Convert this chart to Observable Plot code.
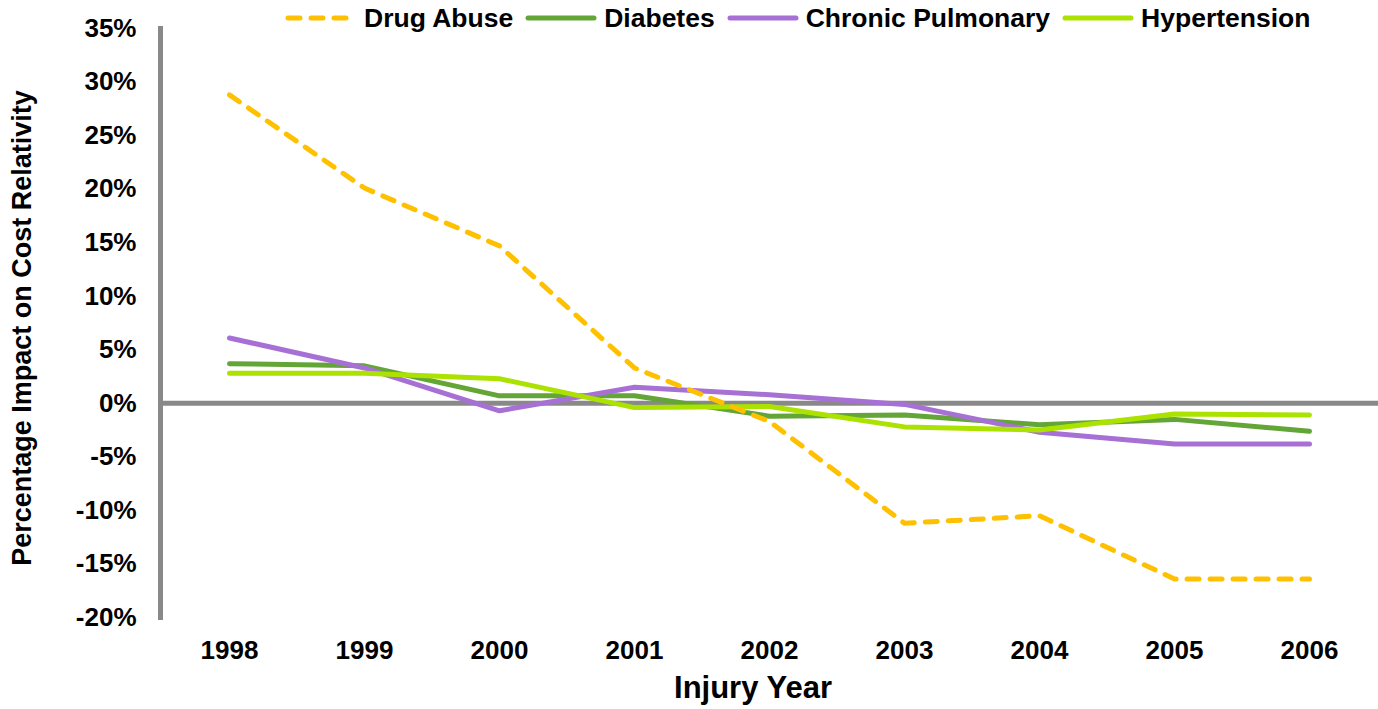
<!DOCTYPE html>
<html>
<head>
<meta charset="utf-8">
<script src="https://cdn.jsdelivr.net/npm/d3@7"></script>
<script src="https://cdn.jsdelivr.net/npm/@observablehq/plot@0.6"></script>
<style>
  html, body { margin: 0; padding: 0; background: #fff; }
  #wrap { position: relative; width: 1378px; height: 709px; font-family: "Liberation Sans", Arial, sans-serif; font-weight: bold; color: #000; }
  #legend { position: absolute; left: 285px; top: 5px; display: flex; align-items: center; font-size: 26.5px; line-height: 26px; }
  .item { display: flex; align-items: center; margin-right: 12px; }
  .item svg { margin-right: 7px; }
  #xtitle { position: absolute; left: 753px; top: 672px; transform: translateX(-50%); font-size: 31px; line-height: 31px; white-space: nowrap; }
  #ytitle { position: absolute; left: 22px; top: 328px; transform: translate(-50%, -50%) rotate(-90deg); font-size: 27px; line-height: 27px; white-space: nowrap; }
</style>
</head>
<body>
<div id="wrap">
  <div id="chart"></div>
  <div id="legend"></div>
  <div id="xtitle">Injury Year</div>
  <div id="ytitle">Percentage Impact on Cost Relativity</div>
</div>
<script>
const years = [1998, 1999, 2000, 2001, 2002, 2003, 2004, 2005, 2006];
const seriesNames = ["Drug Abuse", "Diabetes", "Chronic Pulmonary", "Hypertension"];
const drugAbuse = [28.8, 20.1, 14.7, 3.3, -1.7, -11.2, -10.5, -16.4, -16.4];
const diabetes = [3.7, 3.5, 0.7, 0.7, -1.2, -1.1, -2.0, -1.5, -2.6];
const chronicPulmonary = [6.1, 3.3, -0.7, 1.5, 0.8, -0.1, -2.7, -3.8, -3.8];
const hypertension = [2.8, 2.8, 2.3, -0.4, -0.3, -2.2, -2.5, -1.0, -1.1];
const yTicks = [-20, -15, -10, -5, 0, 5, 10, 15, 20, 25, 30, 35];

const colors = {"Drug Abuse": "#FFC000", "Diabetes": "#63A537", "Chronic Pulmonary": "#A770D4", "Hypertension": "#ACE200"};
const dashes = {"Drug Abuse": "12,11", "Diabetes": null, "Chronic Pulmonary": null, "Hypertension": null};

const valuesBySeries = {
  "Drug Abuse": drugAbuse,
  "Diabetes": diabetes,
  "Chronic Pulmonary": chronicPulmonary,
  "Hypertension": hypertension
};
const rows = seriesNames.flatMap(s => years.map((yr, i) => ({series: s, year: yr, value: valuesBySeries[s][i]})));

const drawOrder = ["Diabetes", "Chronic Pulmonary", "Hypertension", "Drug Abuse"];

const chart = Plot.plot({
  width: 1378,
  height: 709,
  marginLeft: 160,
  marginRight: 0,
  marginTop: 28,
  marginBottom: 92,
  style: {fontFamily: "'Liberation Sans', Arial, sans-serif", fontWeight: "bold", fontSize: "26px", color: "#000", background: "#fff"},
  x: {type: "point", domain: years, padding: 0.5, label: null, tickSize: 0, tickPadding: 23, tickFormat: d => String(d)},
  y: {domain: [-20, 35], ticks: yTicks, tickFormat: d => d + "%", label: null, tickSize: 0, tickPadding: 24},
  marks: [
    Plot.frame({anchor: "left", stroke: "#898989", strokeWidth: 5}),
    Plot.ruleY([0], {stroke: "#898989", strokeWidth: 5}),
    ...drawOrder.map(s => Plot.line(rows.filter(r => r.series === s), {
      x: "year", y: "value",
      stroke: colors[s], strokeWidth: 5,
      strokeLinecap: "round", strokeLinejoin: "round",
      strokeDasharray: dashes[s] || undefined
    }))
  ]
});
document.getElementById("chart").appendChild(chart);

const legend = document.getElementById("legend");
for (const s of seriesNames) {
  const item = document.createElement("div");
  item.className = "item";
  const dash = dashes[s] ? ` stroke-dasharray="${dashes[s]}"` : "";
  item.innerHTML = `<svg width="72" height="10"><line x1="3" y1="5" x2="69" y2="5" stroke="${colors[s]}" stroke-width="5" stroke-linecap="round"${dash}></line></svg><span>${s}</span>`;
  legend.appendChild(item);
}
</script>
</body>
</html>
